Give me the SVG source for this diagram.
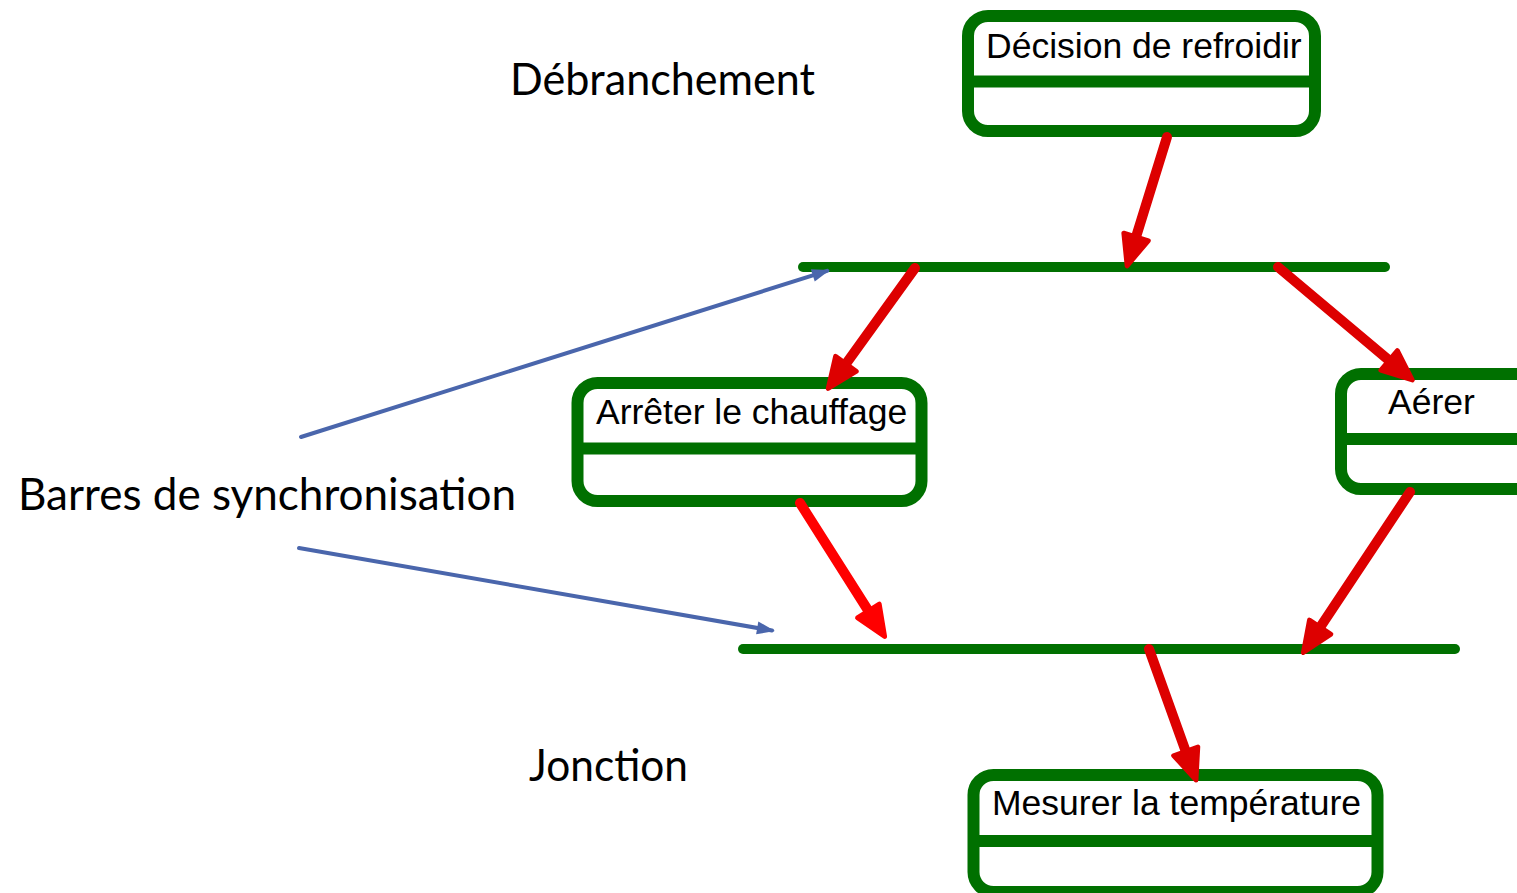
<svg xmlns="http://www.w3.org/2000/svg" width="1517" height="893" viewBox="0 0 1517 893">
  <style>
    .box { fill: #ffffff; stroke: #007000; stroke-width: 12; }
    .div { stroke: #007000; stroke-width: 12; }
    .bar { stroke: #007000; stroke-width: 10; stroke-linecap: round; }
    .flow { fill: none; stroke: #dd0000; stroke-width: 10; stroke-linecap: round; }
    .note { fill: none; stroke: #4a66ac; stroke-width: 4; stroke-linecap: round; }
    .lbl { font-family: "Liberation Sans", Arial, sans-serif; font-size: 35.5px; fill: #000000; }
    .cap { font-family: Lato, "Open Sans", sans-serif; font-size: 44px; fill: #000000; }
  </style>
  <defs>
    <marker id="redHead" markerUnits="userSpaceOnUse" markerWidth="40" markerHeight="40" viewBox="-4 -16 34 32" refX="8" refY="0" orient="auto">
      <path d="M0,-11 L26,0 L0,11 z" fill="#dd0000" stroke="#dd0000" stroke-width="4" stroke-linejoin="round"/>
    </marker>
    <marker id="redHeadBright" markerUnits="userSpaceOnUse" markerWidth="40" markerHeight="40" viewBox="-4 -16 34 32" refX="8" refY="0" orient="auto">
      <path d="M0,-11 L26,0 L0,11 z" fill="#ff0000" stroke="#ff0000" stroke-width="4" stroke-linejoin="round"/>
    </marker>
    <marker id="blueHead" markerUnits="userSpaceOnUse" markerWidth="24" markerHeight="20" viewBox="-2 -10 22 20" refX="15" refY="0" orient="auto">
      <path d="M0,-6.5 L18,0 L0,6.5 z" fill="#4a66ac"/>
    </marker>
  </defs>

  <!-- free captions -->
  <text class="cap" x="510" y="95" textLength="305" lengthAdjust="spacingAndGlyphs">Débranchement</text>
  <text class="cap" x="18" y="510" textLength="498" lengthAdjust="spacingAndGlyphs">Barres de synchronisation</text>
  <text class="cap" x="529" y="781" textLength="159" lengthAdjust="spacingAndGlyphs">Jonction</text>

  <!-- synchronisation bars -->
  <g id="fork">
    <line class="bar" x1="803" y1="267" x2="1385" y2="267"/>
  </g>
  <g id="join">
    <line class="bar" x1="743" y1="649" x2="1455" y2="649"/>
  </g>

  <!-- activity states -->
  <g id="decision">
    <rect class="box" x="968" y="16" width="347" height="115" rx="20"/>
    <line class="div" x1="968" y1="81.5" x2="1315" y2="81.5"/>
    <text class="lbl" x="986" y="58">Décision de refroidir</text>
  </g>
  <g id="arreter">
    <rect class="box" x="577.5" y="383" width="344" height="118" rx="20"/>
    <line class="div" x1="577.5" y1="448.5" x2="921.5" y2="448.5"/>
    <text class="lbl" x="596" y="424">Arrêter le chauffage</text>
  </g>
  <g id="aerer">
    <rect class="box" x="1341" y="374" width="230" height="115" rx="20"/>
    <line class="div" x1="1341" y1="439" x2="1571" y2="439"/>
    <text class="lbl" x="1388" y="414">Aérer</text>
  </g>
  <g id="mesurer">
    <rect class="box" x="973.5" y="775" width="404" height="117" rx="20"/>
    <line class="div" x1="973.5" y1="841" x2="1377.5" y2="841"/>
    <text class="lbl" x="992" y="815">Mesurer la température</text>
  </g>

  <!-- connectors -->
  <g id="connectors">
    <path class="flow" d="M1167,137 L1133.3,245.8" marker-end="url(#redHead)"/>
    <path class="flow" d="M915,268 L840.5,371.4" marker-end="url(#redHead)"/>
    <path class="flow" d="M1278,267 L1396.2,366.4" marker-end="url(#redHead)"/>
    <path class="flow" d="M800,503 L873.4,618.8" style="stroke:#ff0000" marker-end="url(#redHeadBright)"/>
    <path class="flow" d="M1410,492 L1315,635" marker-end="url(#redHead)"/>
    <path class="flow" d="M1149,649 L1188.9,760.1" marker-end="url(#redHead)"/>
    <path class="note" d="M301,437 L827.1,270.9" marker-end="url(#blueHead)"/>
    <path class="note" d="M299,548 L772,630.5" marker-end="url(#blueHead)"/>
  </g>
</svg>
